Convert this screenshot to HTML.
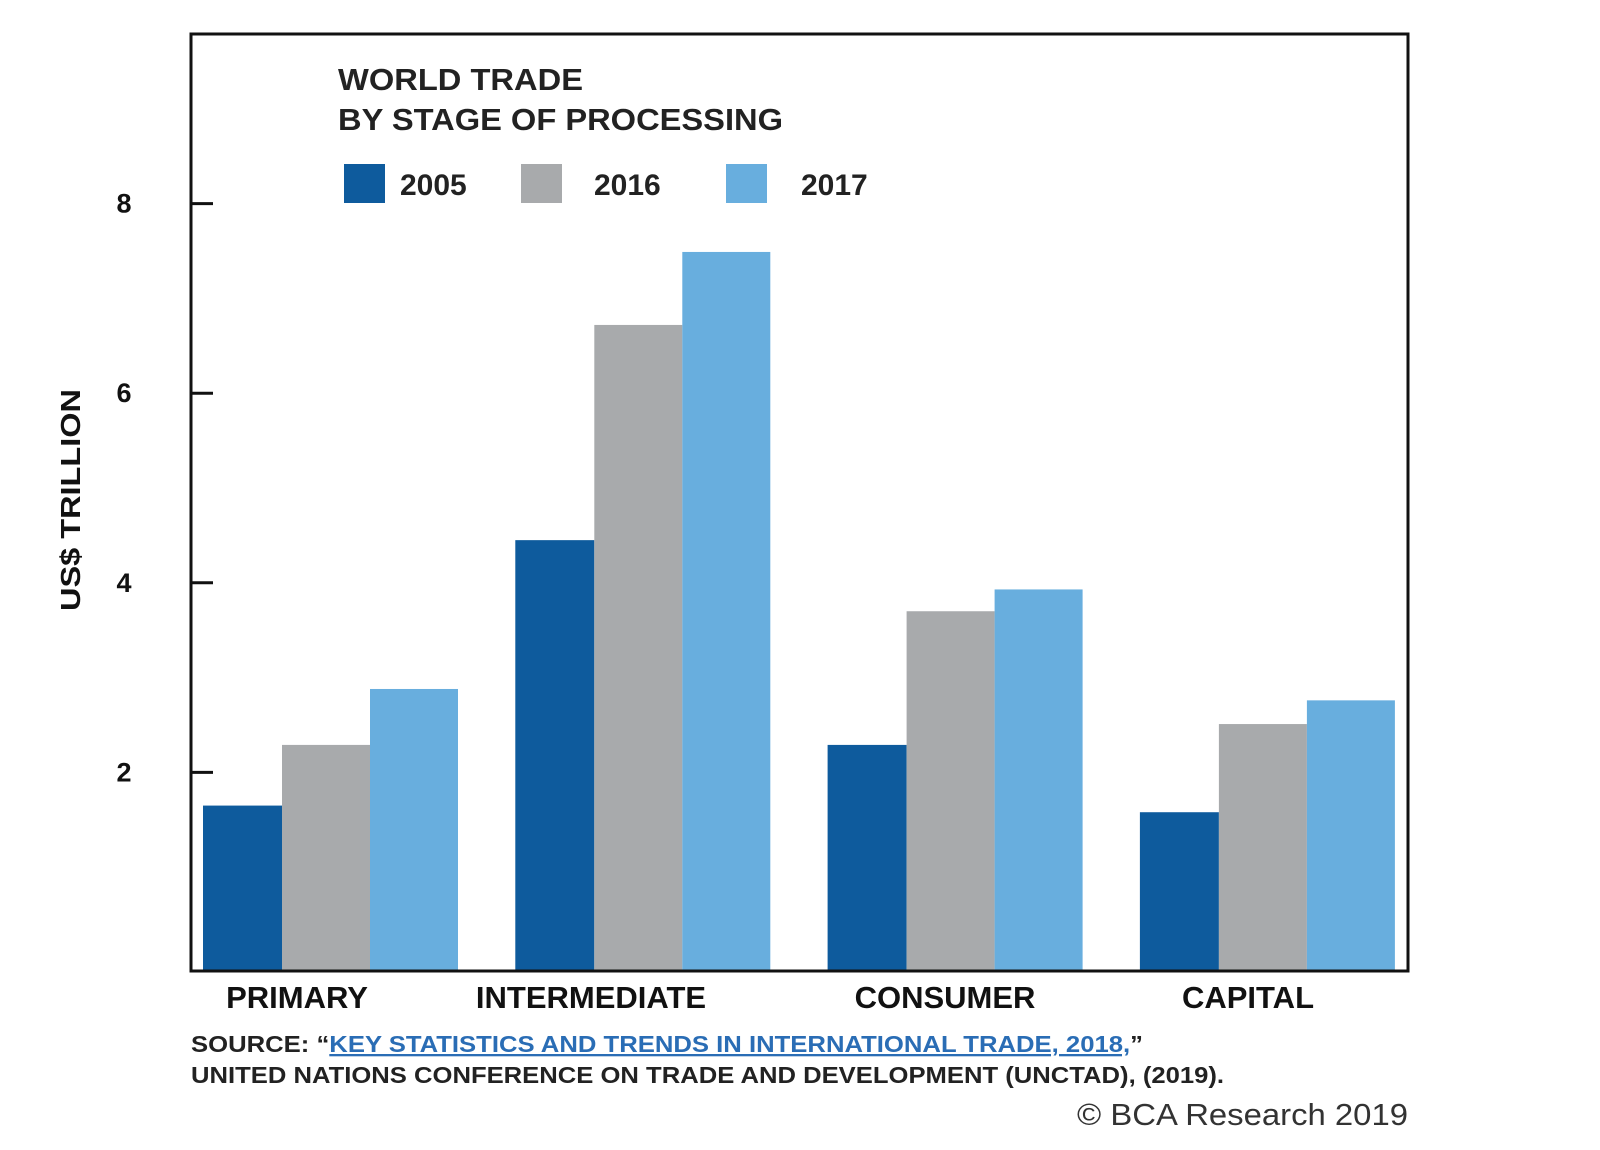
<!DOCTYPE html>
<html><head><meta charset="utf-8"><style>
body{margin:0;background:#fff;}
svg{display:block;font-family:"Liberation Sans",Arial,sans-serif;}
</style></head><body>
<svg id="chart" width="1600" height="1150" viewBox="0 0 1600 1150">
<rect x="0" y="0" width="1600" height="1150" fill="#fff"/>
<g id="bars"></g>
<rect x="191" y="34" width="1217" height="937" fill="none" stroke="#111" stroke-width="3"/>
<g id="yaxis"></g>
<text x="0" y="0" transform="translate(80,500) rotate(-90)" text-anchor="middle" font-size="28" font-weight="bold" fill="#111" textLength="222" lengthAdjust="spacingAndGlyphs">US$ TRILLION</text>
<g>
<text x="338" y="90" font-size="31" font-weight="bold" fill="#222" textLength="245" lengthAdjust="spacingAndGlyphs">WORLD TRADE</text>
<text x="338" y="130" font-size="31" font-weight="bold" fill="#222" textLength="445" lengthAdjust="spacingAndGlyphs">BY STAGE OF PROCESSING</text>
</g>
<g id="legend"></g>
<g id="xaxis"></g>
<text x="191" y="1052" font-size="23" font-weight="bold" fill="#222" textLength="952" lengthAdjust="spacingAndGlyphs">SOURCE: “<tspan fill="#2a6db5" text-decoration="underline">KEY STATISTICS AND TRENDS IN INTERNATIONAL TRADE, 2018,</tspan>”</text>
<text x="191" y="1083" font-size="23" font-weight="bold" fill="#222" textLength="1033" lengthAdjust="spacingAndGlyphs">UNITED NATIONS CONFERENCE ON TRADE AND DEVELOPMENT (UNCTAD), (2019).</text>
<text x="1408" y="1125" text-anchor="end" font-size="31" fill="#333" textLength="331" lengthAdjust="spacingAndGlyphs">© BCA Research 2019</text>
</svg>
<script>
const categories = ["PRIMARY", "INTERMEDIATE", "CONSUMER", "CAPITAL"];
const seriesNames = ["2005", "2016", "2017"];
const values2005 = [1.65, 4.45, 2.29, 1.58];
const values2016 = [2.29, 6.72, 3.70, 2.51];
const values2017 = [2.88, 7.49, 3.93, 2.76];
const yTicks = [2, 4, 6, 8];

const NS = "http://www.w3.org/2000/svg";
const colors = ["#0e5b9d", "#a8aaac", "#68aede"];
const series = [values2005, values2016, values2017];
const y0 = 962, unit = 94.8, frameBottom = 971;
function yScale(v){ return y0 - v * unit; }
const groupStart0 = 203, groupStep = 312.3, barW = [79, 88, 88];
function xBar(ci, si){ let x = groupStart0 + ci * groupStep; for (let k = 0; k < si; k++) x += barW[k]; return x; }
function mk(tag, attrs, parent){ const e = document.createElementNS(NS, tag); for (const k in attrs) e.setAttribute(k, attrs[k]); parent.appendChild(e); return e; }

const gb = document.getElementById("bars");
categories.forEach((c, ci) => {
  series.forEach((vals, si) => {
    const r = mk("rect", {x: xBar(ci, si), y: yScale(vals[ci]), width: barW[si], height: frameBottom - yScale(vals[ci]), fill: colors[si]}, gb);
    
    
  });
});

const gy = document.getElementById("yaxis");
yTicks.forEach(t => {
  const l = mk("line", {x1: 191, x2: 213, y1: yScale(t), y2: yScale(t), stroke: "#111", "stroke-width": 3}, gy);
  
  
  const tx = mk("text", {x: 124, y: yScale(t) + 9, "text-anchor": "middle", "font-size": 27, "font-weight": "bold", fill: "#111"}, gy);
  tx.textContent = t;
  
  
});

const gx = document.getElementById("xaxis");
const labelCenters = [297, 591, 945, 1248];
categories.forEach((c, ci) => {
  const tx = mk("text", {x: labelCenters[ci], y: 1008, "text-anchor": "middle", "font-size": 31, "font-weight": "bold", fill: "#111"}, gx);
  tx.textContent = c;
  
  
});

const gl = document.getElementById("legend");
const legSq = [344, 521, 726], legTx = [400, 594, 801];
seriesNames.forEach((n, si) => {
  const r = mk("rect", {x: legSq[si], y: 164, width: 41, height: 39, fill: colors[si]}, gl);
  
  
  const tx = mk("text", {x: legTx[si], y: 195, "font-size": 30, "font-weight": "bold", fill: "#222"}, gl);
  tx.textContent = n;
  
  
});
</script>
</body></html>
